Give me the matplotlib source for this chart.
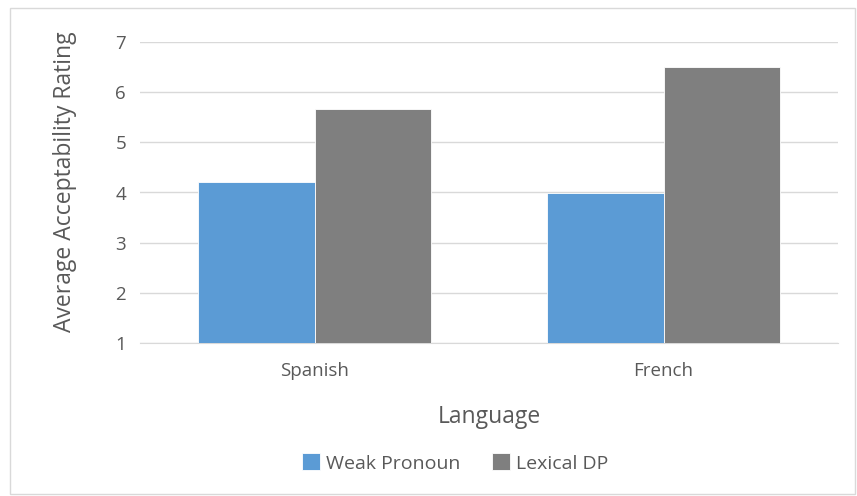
import numpy as np
import matplotlib.pyplot as plt
from matplotlib.patches import Rectangle

languages = ["Spanish", "French"]
weak_pronoun = [4.2, 4.0]
lexical_dp = [5.67, 6.5]
yticks = [1, 2, 3, 4, 5, 6, 7]

plt.rcParams["font.family"] = ["Open Sans", "DejaVu Sans"]
txt = "#595959"

fig = plt.figure(figsize=(8.57, 4.96), dpi=100)
ax = fig.add_axes([140 / 857, 1 - 343 / 496, 698 / 857, 301 / 496])

x = np.arange(len(languages))
w = 0.335
ax.bar(x - w / 2, np.array(weak_pronoun) - 1, w, bottom=1, color="#5B9BD5",
       edgecolor="white", linewidth=0.6, label="Weak Pronoun", zorder=3)
ax.bar(x + w / 2, np.array(lexical_dp) - 1, w, bottom=1, color="#7F7F7F",
       edgecolor="white", linewidth=0.6, label="Lexical DP", zorder=3)

ax.set_xlim(-0.5, 1.5)
ax.set_ylim(1, 7)
ax.set_yticks(yticks)
ax.set_xticks(x)
ax.set_xticklabels(languages)
ax.yaxis.grid(True, color="#D9D9D9", linewidth=1)
ax.set_axisbelow(True)
for s in ["top", "right", "left"]:
    ax.spines[s].set_visible(False)
ax.spines["bottom"].set_color("#D9D9D9")
ax.tick_params(length=0, labelsize=13.5, colors=txt)
ax.tick_params(axis="y", pad=10)
ax.tick_params(axis="x", pad=14)

ax.set_ylabel("Average Acceptability Rating", fontsize=16.5, color=txt, va="center")
ax.yaxis.set_label_coords(-0.107, 0.537)
ax.set_xlabel("Language", fontsize=16.5, color=txt, va="center")
ax.xaxis.set_label_coords(0.5, -0.246)

leg = fig.legend(loc="center", bbox_to_anchor=(455 / 857, 1 - 463 / 496), ncol=2,
                 frameon=False, fontsize=14, handlelength=0.95, handleheight=0.95,
                 handletextpad=0.3, columnspacing=1.6)
for t in leg.get_texts():
    t.set_color(txt)

fig.patches.append(Rectangle((10 / 857, 2 / 496), 845 / 857, 486 / 496,
                             transform=fig.transFigure, fill=False,
                             edgecolor="#D9D9D9", linewidth=1))

fig.savefig("out.png", dpi=100, facecolor="white")
